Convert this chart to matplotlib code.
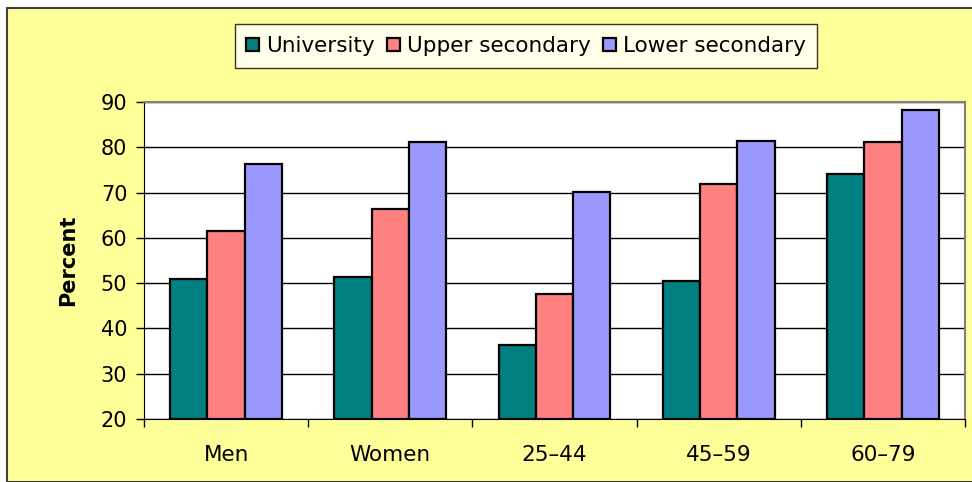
import matplotlib.pyplot as plt
import numpy as np
from matplotlib.patches import Rectangle

categories = ["Men", "Women", "25\u201344", "45\u201359", "60\u201379"]
series_names = ["University", "Upper secondary", "Lower secondary"]
university = [51.0, 51.4, 36.3, 50.5, 74.1]
upper_secondary = [61.6, 66.4, 47.5, 71.9, 81.1]
lower_secondary = [76.2, 81.1, 70.2, 81.4, 88.3]
colors = ["#008080", "#FF8080", "#9999FF"]

plt.rcParams["font.family"] = ["DejaVu Sans"]

fig = plt.figure(figsize=(9.72, 4.82), dpi=100, facecolor="white")
# yellow chart area with dark frame
bg = Rectangle((7 / 972, 0), 1.0, 1 - 8 / 482, transform=fig.transFigure,
               facecolor="#FFFF99", edgecolor="#404040", linewidth=1.5, zorder=-5)
fig.add_artist(bg)

ax = fig.add_axes([144 / 972, 1 - 419 / 482, 821 / 972, 317 / 482])
ax.set_zorder(2)
ax.set_facecolor("white")

x = np.arange(len(categories))
w = 0.227
data = [university, upper_secondary, lower_secondary]
for i, (vals, name, c) in enumerate(zip(data, series_names, colors)):
    ax.bar(x + (i - 1) * w, np.array(vals) - 20, width=w, bottom=20, color=c,
           edgecolor="black", linewidth=1.6, label=name, zorder=3)

ax.set_xlim(-0.5, len(categories) - 0.5)
ax.set_ylim(20, 90)
ax.set_yticks(range(20, 91, 10))
ax.yaxis.grid(True, color="black", linewidth=1, zorder=1)
ax.set_xticks(x)
ax.set_xticklabels(categories, fontsize=15.5)
ax.set_xticks(np.arange(-0.5, len(categories), 1), minor=True)
ax.tick_params(axis="x", which="major", length=0, pad=19)
ax.tick_params(axis="x", which="minor", length=6, width=1, direction="out")
ax.tick_params(axis="y", labelsize=15, length=6, width=1, direction="out", pad=6)

for s in ["top", "right"]:
    ax.spines[s].set_color("#808080")
    ax.spines[s].set_linewidth(1.5)
ax.spines["left"].set_color("black")
ax.spines["bottom"].set_color("black")

ax.set_ylabel("Percent", fontsize=15, fontweight="bold", labelpad=16)

leg = fig.legend(loc="center", bbox_to_anchor=(526 / 972, 1 - 46 / 482), ncol=3,
                 fontsize=15.5, frameon=True, fancybox=False, edgecolor="black",
                 handlelength=0.6, handleheight=0.6, handletextpad=0.3,
                 columnspacing=0.6, borderpad=0.55)
leg.get_frame().set_linewidth(1)
leg.set_zorder(5)

fig.savefig("out.png", dpi=100, facecolor=fig.get_facecolor())
